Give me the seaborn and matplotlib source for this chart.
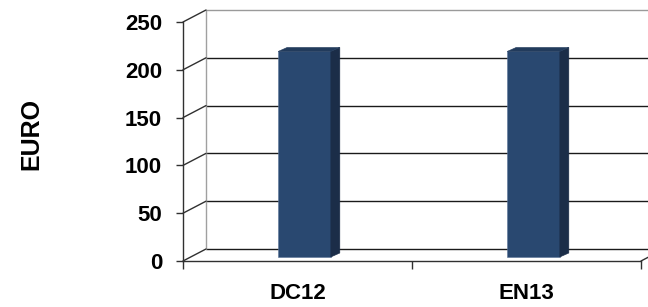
import matplotlib
matplotlib.use("Agg")
import matplotlib.pyplot as plt
import matplotlib.transforms as mtransforms
from matplotlib.patches import Polygon
from matplotlib.lines import Line2D
import seaborn as sns
import pandas as pd

categories = ["DC12", "EN13"]
values = [215, 215]
yticks = [0, 50, 100, 150, 200, 250]

front = "#294870"
side = "#1b2d48"
top = "#223b5c"

sns.set_style("white")
plt.rcParams["font.family"] = ["Liberation Sans", "DejaVu Sans"]
plt.rcParams["font.weight"] = "bold"
plt.rcParams["text.color"] = "black"
plt.rcParams["xtick.color"] = "black"
plt.rcParams["ytick.color"] = "black"

W, H = 648, 307
fig = plt.figure(figsize=(W / 100, H / 100), dpi=100)
# front plane of the chart box, in pixels: x 183..641, y 22..261
ax = fig.add_axes([183 / W, (H - 261) / H, (641 - 183) / W, (261 - 22) / H])
ax.patch.set_alpha(0)

df = pd.DataFrame({"cat": categories, "val": values})
sns.barplot(data=df, x="cat", y="val", color=front, width=0.23,
            saturation=1, ax=ax, zorder=3)

ax.set_xlim(-0.5, 1.5)
ax.set_ylim(0, 250)

dpi = fig.dpi
def shift(dx, dy):
    return ax.transData + mtransforms.ScaledTranslation(dx / dpi, dy / dpi, fig.dpi_scale_trans)

back = shift(23, 12)
# back wall grid
for v in yticks:
    ax.plot([-0.5, 1.5], [v, v], transform=back,
            color="#9a9a9a" if v == 250 else "#1a1a1a", lw=1.0, zorder=1, clip_on=False)
ax.plot([-0.5, -0.5], [0, 250], transform=back, color="#a0a0a0", lw=1.0, zorder=1, clip_on=False)

# connectors between front axis and back wall
fig.canvas.draw()
ident = mtransforms.IdentityTransform()
for v in yticks:
    p0 = ax.transData.transform((-0.5, v))
    p1 = back.transform((-0.5, v))
    fig.add_artist(Line2D([p0[0], p1[0]], [p0[1], p1[1]], transform=ident,
                          color="#303030", lw=1.0))
p0 = ax.transData.transform((1.5, 0))
p1 = back.transform((1.5, 0))
fig.add_artist(Line2D([p0[0], p1[0]], [p0[1], p1[1]], transform=ident, color="#303030", lw=1.0))

# bars sit a little behind the front plane, then get side and top faces
mid = shift(7, 4)
for patch in ax.patches:
    patch.set_transform(mid)
    patch.set_edgecolor("#5a7397")
    patch.set_linewidth(0.4)
fig.canvas.draw()
dx, dy = 9, 4
for patch in ax.patches:
    bb = patch.get_window_extent()
    x0, x1, y0, y1 = bb.x0, bb.x1, bb.y0, bb.y1
    fig.add_artist(Polygon([(x1, y0), (x1 + dx, y0 + dy), (x1 + dx, y1 + dy), (x1, y1)],
                           closed=True, transform=ident, facecolor=side, edgecolor=side, lw=0.4))
    fig.add_artist(Polygon([(x0, y1), (x0 + dx, y1 + dy), (x1 + dx, y1 + dy), (x1, y1)],
                           closed=True, transform=ident, facecolor=top, edgecolor=top, lw=0.4))

sns.despine(ax=ax, top=True, right=True)
ax.spines["left"].set_color("#303030")
ax.spines["bottom"].set_color("#303030")
ax.spines["left"].set_linewidth(1.0)
ax.spines["bottom"].set_linewidth(1.0)

ax.set_yticks(yticks)
ax.set_yticklabels([str(v) for v in yticks], fontsize=16, fontweight="bold")
ax.tick_params(axis="y", left=True, length=5, width=1, color="#303030", pad=10)
ax.set_xticks([0, 1])
ax.set_xticklabels(categories, fontsize=16, fontweight="bold")
ax.set_xticks([-0.5, 0.5, 1.5], minor=True)
ax.tick_params(axis="x", which="major", length=0, pad=16)
ax.tick_params(axis="x", which="minor", bottom=True, length=6, width=1, color="#303030")
ax.set_xlabel("")
ax.set_ylabel("")
ax.grid(False)

fig.text(31 / W, 1 - 134 / H, "EURO", rotation=90, ha="center", va="center",
         fontsize=18, fontweight="bold")

fig.savefig("out.png", dpi=100)
